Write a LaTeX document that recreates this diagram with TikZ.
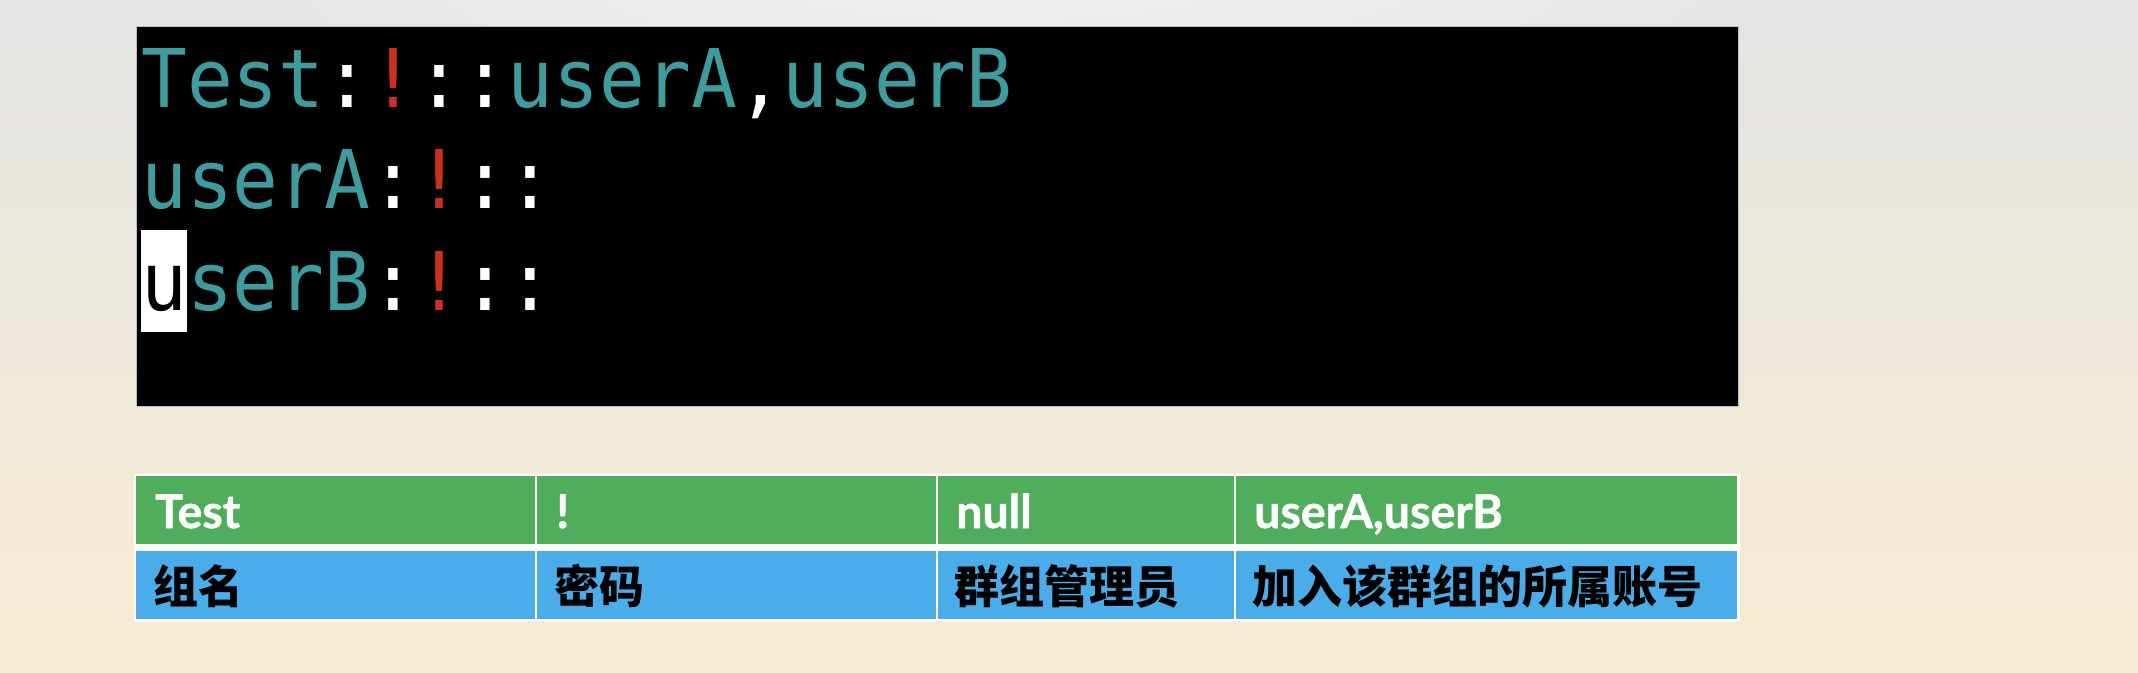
\documentclass[tikz,border=0pt]{standalone}
\usepackage{fontspec}
\usepackage{tikz}
\usetikzlibrary{fadings}

\newfontfamily\termfont[FakeStretch=0.94]{DejaVu Sans Mono}
\newfontfamily\cellfont[BoldFeatures={FakeBold=1.2}]{Lato}
\newfontfamily\cjkfont{Noto Sans CJK SC}

\definecolor{bgtop}{RGB}{228,228,228}
\definecolor{bgmid}{RGB}{239,236,226}
\definecolor{bgbottom}{RGB}{247,236,210}
\definecolor{termteal}{RGB}{62,156,158}
\definecolor{termred}{RGB}{204,48,34}
\definecolor{hdrgreen}{RGB}{79,173,91}
\definecolor{rowblue}{RGB}{74,172,232}

\tikzfading[name=glow, inner color=transparent!30, outer color=transparent!100]

\newcommand\termt[1]{\textcolor{termteal}{#1}}
\newcommand\termw[1]{\textcolor{white}{#1}}
\newcommand\termr[1]{\textcolor{termred}{#1}}

\begin{document}
\begin{tikzpicture}[x=1pt, y=-1pt,
    termline/.style={anchor=base west, inner sep=0pt, font=\termfont\fontsize{81}{100}\selectfont},
    hdrcell/.style={anchor=base west, inner sep=0pt, text=white, font=\cellfont\bfseries\fontsize{46.5}{54}\selectfont},
    cjkcell/.style={anchor=base west, inner sep=0pt, text=black, font=\cjkfont\bfseries\fontsize{45}{54}\selectfont}]
            \useasboundingbox (0,0) rectangle (2138,672);
            \fill[top color=bgtop, middle color=bgmid, bottom color=bgbottom] (0,0) rectangle (2138,672);
            \fill[white, path fading=glow] (1000,-250) ellipse (1000 and 520);

            % terminal
            \filldraw[black, draw=gray!50, line width=1pt] (136,26) rectangle (1738,406);
            \fill[white] (141,230) rectangle (187,332);
            \node[termline] (line1) at (141,107) {\termt{Test}\termw{:}\termr{!}\termw{::}\termt{userA}\termw{,}\termt{userB}};
            \node[termline] (line2) at (141,208) {\termt{userA}\termw{:}\termr{!}\termw{::}};
            \node[termline] (line3) at (141,310) {\textcolor{black}{u}\termt{serB}\termw{:}\termr{!}\termw{::}};

            % table
            \fill[white] (134,474) rectangle (1740,621);
            \foreach \xa/\xb in {136/535, 537/936, 938/1234, 1236/1737} {
                \fill[hdrgreen] (\xa,476) rectangle (\xb,544);
                \fill[rowblue] (\xa,551) rectangle (\xb,619);
            }
            \node[hdrcell] (hdname) at (155,528) {Test};
            \node[hdrcell] (hdpass) at (556,528) {!};
            \node[hdrcell] (hdadmin) at (956,528) {null};
            \node[hdrcell] (hdusers) at (1254,528) {userA,userB};
            \node[cjkcell] (cnname) at (153,603) {组名};
            \node[cjkcell] (cnpass) at (554,603) {密码};
            \node[cjkcell] (cnadmin) at (954,603) {群组管理员};
            \node[cjkcell] (cnusers) at (1252,603) {加入该群组的所属账号};
        \end{tikzpicture}
\end{document}
